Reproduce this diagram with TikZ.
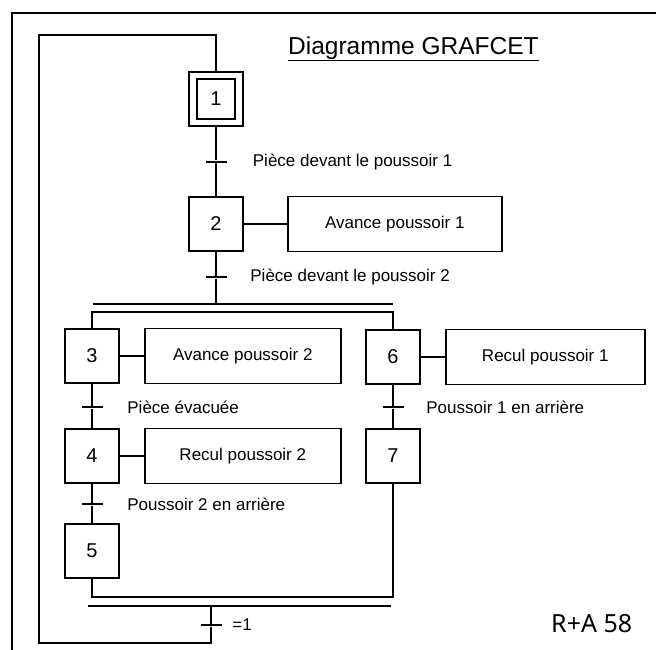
\documentclass[tikz,border=0pt]{standalone}
\usepackage{fontspec}
\setmainfont{Liberation Sans}
\newfontfamily\sigle{Noto Sans}
\usepackage{tikz}
\usetikzlibrary{positioning}
\tikzstyle{etape}       = [rectangle, minimum width=54pt, minimum height=54pt, inner sep=0pt, draw=black, line width=1.8pt, font=\fontsize{20}{22}\selectfont]
\tikzstyle{etapeinit}   = [etape, minimum width=46pt, minimum height=47pt, double, double distance=5.8pt, outer sep=4.5pt]
\tikzstyle{action}      = [rectangle, minimum width=196pt, minimum height=55pt, draw=black, line width=1.8pt, font=\fontsize{17}{19}\selectfont]
\tikzstyle{transition}  = [rectangle, minimum width=21pt, minimum height=2.6pt, inner sep=0pt, fill=black]
\tikzstyle{receptivite} = [inner sep=0pt, font=\fontsize{17}{19}\selectfont]
\tikzstyle{liaison}     = [line width=1.8pt]
\tikzstyle{barre}       = [line width=1.4pt]

\begin{document}
\begin{tikzpicture}[x=1pt, y=-1pt, node distance=100pt]
    \useasboundingbox (0,0) rectangle (656,650);
    \draw [line width=2.3pt] (12,650) -- (12,12.7) -- (656,12.7);
    \node (titre) [anchor=base west, inner sep=0pt, font=\fontsize{24.5}{26}\selectfont] at (288,55) {Diagramme GRAFCET};
    \draw [line width=1.4pt] (titre.south west) -- (titre.south east);

    % etapes
    \node (e1) [etapeinit] at (216,99) {1};
    \node (e2) [etape, below of=e1, node distance=125pt] {2};
    \node (e3) [etape] at (92,356) {3};
    \node (e4) [etape, below of=e3, node distance=100pt] {4};
    \node (e5) [etape, below of=e4, node distance=95pt] {5};
    \node (e6) [etape] at (393,357) {6};
    \node (e7) [etape, below of=e6, node distance=99pt] {7};

    % actions
    \node (a2) [action, right=43pt of e2, minimum width=214pt] {Avance poussoir 1};
    \node (a3) [action, right=24pt of e3] {Avance poussoir 2};
    \node (a4) [action, right=24pt of e4] {Recul poussoir 2};
    \node (a6) [action, right=24pt of e6, minimum width=199pt] {Recul poussoir 1};

    % transitions
    \node (t1) [transition] at (216,162) {};
    \node (t2) [transition] at (216,277) {};
    \node (t3) [transition] at (92,407) {};
    \node (t4) [transition] at (92,504) {};
    \node (t6) [transition] at (393,407) {};
    \node (tf) [transition] at (211,625) {};
    \node (r1) [receptivite, right=26pt of t1] {Pièce devant le poussoir 1};
    \node (r2) [receptivite, right=23.5pt of t2] {Pièce devant le poussoir 2};
    \node (r3) [receptivite, right=24.5pt of t3] {Pièce évacuée};
    \node (r4) [receptivite, right=24.5pt of t4] {Poussoir 2 en arrière};
    \node (r6) [receptivite, right=22.5pt of t6] {Poussoir 1 en arrière};
    \node (rf) [receptivite, right=10.5pt of tf] {=1};

    \coordinate (divG) at (93,304);
    \coordinate (divD) at (393,304);
    \coordinate (jonc) at (0,312);
    \coordinate (reunion) at (0,597);
    \coordinate (convG) at (88,606);
    \coordinate (convD) at (391,606);
    \coordinate (boucleB) at (39,643);
    \coordinate (boucleH) at (39,35);

    \draw [liaison] (e1) -- (t1) -- (e2);
    \draw [liaison] (e2) -- (a2);
    \draw [liaison] (e2) -- (t2) -- (t2 |- divG);
    \draw [barre] (divG) -- (divD);
    \draw [liaison] (e3) -- (e3 |- jonc) -| (e6);
    \draw [liaison] (e3) -- (a3);
    \draw [liaison] (e3) -- (t3) -- (e4);
    \draw [liaison] (e4) -- (a4);
    \draw [liaison] (e4) -- (t4) -- (e5);
    \draw [liaison] (e6) -- (a6);
    \draw [liaison] (e6) -- (t6) -- (e7);
    \draw [liaison] (e5) -- (e5 |- reunion) -| (e7);
    \draw [barre] (convG) -- (convD);
    \draw [liaison] (tf |- convG) -- (tf) -- (tf |- boucleB) -- (boucleB) -- (boucleH) -| (e1);

    \node (ref) [anchor=west, inner sep=0pt, font=\sigle\fontsize{25}{27}\selectfont] at (551,624) {R+A 58};
\end{tikzpicture}
\end{document}
